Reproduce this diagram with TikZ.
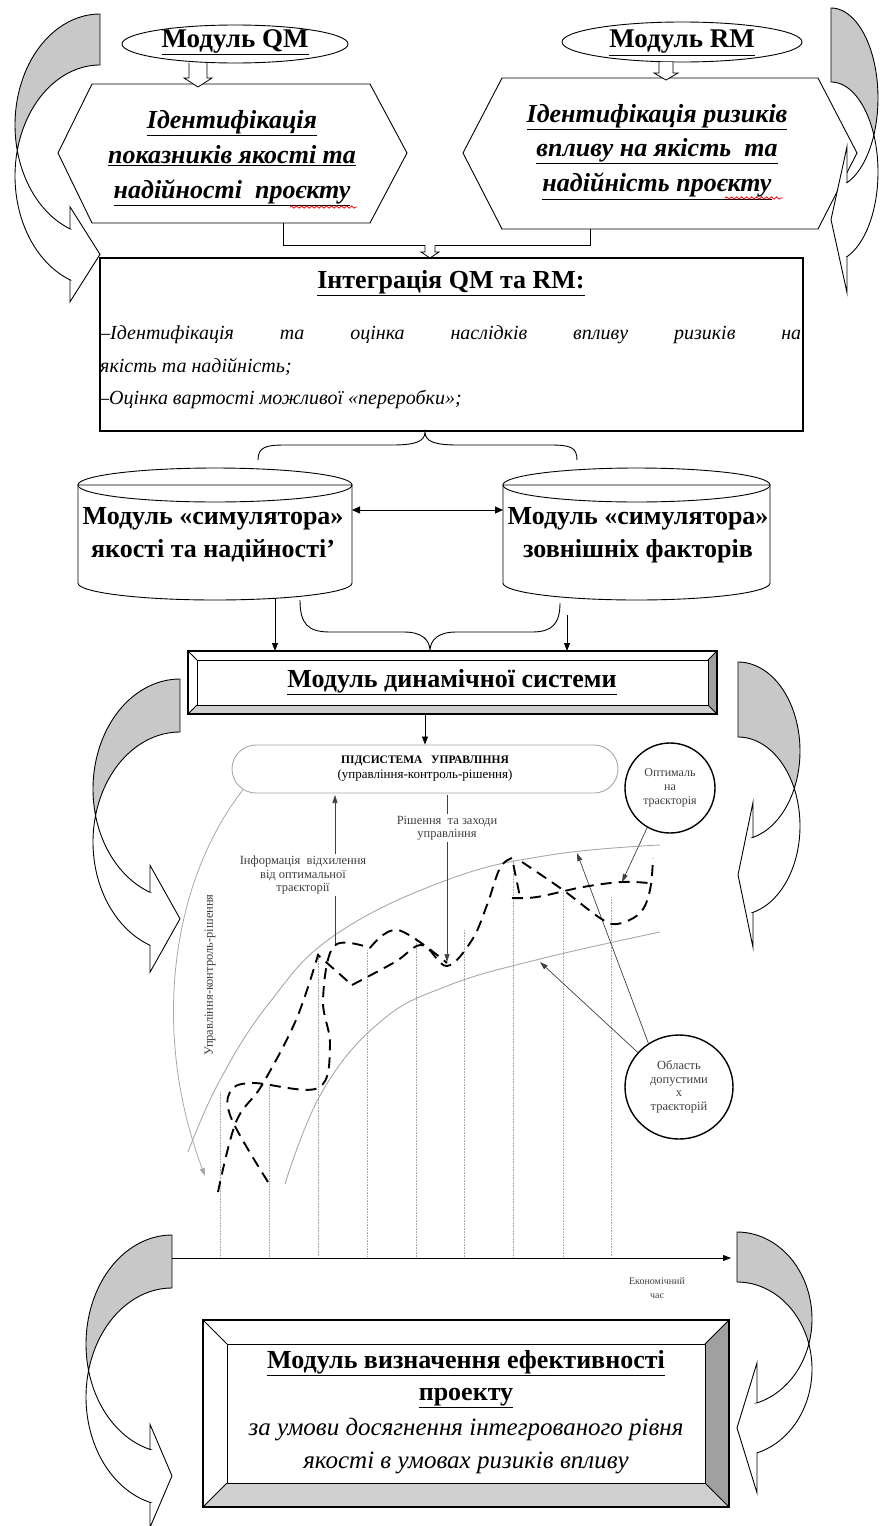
\documentclass[tikz,border=0pt]{standalone}
\usepackage{fontspec}
\setmainfont{Liberation Serif}
\usetikzlibrary{arrows.meta,shapes.geometric,decorations.pathmorphing}
\definecolor{agrey}{HTML}{C8C8C8}
\definecolor{bvdark}{HTML}{A0A0A0}
\definecolor{bvlight}{HTML}{CFCFCF}
\definecolor{gline}{HTML}{A8A8A8}
\definecolor{gtext}{HTML}{404040}
\newcommand\FSz[1]{\fontsize{#1}{#1}\selectfont}
% curved arrow: #1 xr, #2 side sign, #3 a, #4 yt, #5 th, #6 hR, #7 L, #8 bw
\newcommand\curvarrow[8]{%
 \pgfmathsetmacro\CAyc{#4+#6}%
 \pgfmathsetmacro\CAal{asin(#5/(2*#6))}%
 \pgfmathsetmacro\CAbe{acos(-#7/#3)}%
 \pgfmathsetmacro\CAyA{\CAyc+#6*sin(\CAbe)}%
 \pgfmathsetmacro\CAyB{\CAyA+#5}%
 \pgfmathsetmacro\CAxb{#1-#2*#7}%
 \pgfmathsetmacro\CAym{(\CAyA+\CAyB)/2}%
 \pgfmathsetmacro\CAa{180-\CAal}%
 \pgfmathsetmacro\CAb{180+\CAal}%
 \filldraw[fill=agrey,line width=0.9] plot[domain=270:\CAa,samples=50] ({#1+#2*#3*cos(\x)},{\CAyc+#6*sin(\x)}) -- plot[domain=\CAb:270,samples=50] ({#1+#2*#3*cos(\x)},{\CAyc+#5+#6*sin(\x)}) -- cycle;
 \filldraw[fill=white,line width=0.9] plot[domain=\CAb:\CAbe,samples=50] ({#1+#2*#3*cos(\x)},{\CAyc+#5+#6*sin(\x)}) -- (\CAxb,\CAyB) -- (\CAxb,{\CAyB+#8}) -- (#1,\CAym) -- (\CAxb,{\CAyA-#8}) -- (\CAxb,\CAyA) -- plot[domain=\CAbe:\CAa,samples=50] ({#1+#2*#3*cos(\x)},{\CAyc+#6*sin(\x)}) -- cycle;
}
% hollow block arrow: x, ytop, ytip, shaft half, head half, head length
\newcommand\hollowarrow[6]{%
 \filldraw[fill=white,line width=0.8] ({#1-#4},#2) -- ({#1-#4},{#3-#6}) -- ({#1-#5},{#3-#6}) -- (#1,#3) -- ({#1+#5},{#3-#6}) -- ({#1+#4},{#3-#6}) -- ({#1+#4},#2);
}
% bevel frame: x1 y1 x2 y2 d
\newcommand\bevelbox[5]{%
 \fill[white] (#1,#2) rectangle (#3,#4);
 \fill[bvdark] (#3,#2) -- (#3,#4) -- ({#3-#5},{#4-#5}) -- ({#3-#5},{#2+#5}) -- cycle;
 \fill[bvlight] (#1,#4) -- (#3,#4) -- ({#3-#5},{#4-#5}) -- ({#1+#5},{#4-#5}) -- cycle;
 \draw[line width=1.3] (#1,#2) rectangle (#3,#4);
 \draw[line width=0.8] ({#1+#5},{#2+#5}) rectangle ({#3-#5},{#4-#5});
 \draw[line width=0.8] (#1,#2) -- ({#1+#5},{#2+#5}) (#3,#2) -- ({#3-#5},{#2+#5}) (#1,#4) -- ({#1+#5},{#4-#5}) (#3,#4) -- ({#3-#5},{#4-#5});
}
% cylinder: cx, a, ytop, ybot, ry
\newcommand\cylshape[5]{%
 \filldraw[fill=white,line width=0.9] ({#1-#2},#3) -- ({#1-#2},#4) -- plot[domain=180:0,samples=60] ({#1+#2*cos(\x)},{#4+#5*sin(\x)}) -- ({#1+#2},#3) -- cycle;
 \draw[line width=0.9] plot[domain=0:360,samples=90] ({#1+#2*cos(\x)},{#3+#5*sin(\x)});
}
\begin{document}
\begin{tikzpicture}[x=1pt,y=-1pt,
  every node/.style={inner sep=0pt},
  arr/.style={-{Triangle[length=8pt,width=6pt]},line width=0.8},
  garr/.style={draw=gline,line width=0.8,-{Triangle[length=8pt,width=5pt]}},
  karr/.style={draw=gtext,line width=0.7,-{Triangle[length=8pt,width=5pt]}},
  gtxt/.style={text=gtext,font=\FSz{12.5},align=center},
  traj/.style={line width=1.9,dash pattern=on 11pt off 7pt},
  vdot/.style={gline,line width=0.6,densely dotted},
  hexit/.style={font=\bfseries\itshape\FSz{26},align=center}]
\useasboundingbox (0,0) rectangle (881,1526);

% ---------- top ellipses ----------
\node[draw,ellipse,line width=0.9,minimum width=226,minimum height=38] (qm) at (235,44) {};
\node[font=\bfseries\FSz{27}] (qmT) at (235,42) {\underline{Модуль QM}};
\node[draw,ellipse,line width=0.9,minimum width=240,minimum height=40] (rm) at (682,42) {};
\node[font=\bfseries\FSz{27}] (rmT) at (682,43) {\underline{Модуль RM}};

% ---------- hexagons ----------
\filldraw[fill=white,line width=0.9] (92,84) -- (370,84) -- (407,153) -- (370,223) -- (92,223) -- (58,153) -- cycle;
\filldraw[fill=white,line width=0.9] (502,78) -- (818,78) -- (857,153) -- (818,229) -- (502,229) -- (463,153) -- cycle;
\node[hexit] (hq) at (232,158) {\underline{Ідентифікація}\\[9pt]\underline{показників якості та}\\[9pt]\underline{надійності\ \ проєкту}};
\node[hexit] (hr) at (657,152) {\underline{Ідентифікація ризиків}\\[8pt]\underline{впливу на якість\ \ та}\\[8pt]\underline{надійність проєкту}};
\draw[red,line width=0.8,decorate,decoration={snake,amplitude=1.2pt,segment length=5pt}] (290,207) -- (357,207);
\draw[red,line width=0.8,decorate,decoration={snake,amplitude=1.2pt,segment length=5pt}] (725,198) -- (783,198);

\hollowarrow{198}{63}{87}{9}{14}{9}
\hollowarrow{666}{62}{80}{7}{12}{7}

% ---------- connector to integration ----------
\coordinate (qmB) at (283,223);
\coordinate (rmB) at (590,229);
\draw[line width=0.9] (qmB) -- (283,245) -| (rmB);
\hollowarrow{430}{245}{258}{5}{9}{6}

% ---------- integration box ----------
\draw[line width=1.1] (100,258) rectangle (803,431);
\node[font=\bfseries\FSz{26}] (intT) at (451,283) {\underline{Інтеграція QM та RM:}};
\node[anchor=west,font=\itshape\FSz{20}] (int1) at (100,335) {\makebox[701pt][s]{–Ідентифікація та оцінка наслідків впливу ризиків на}};
\node[anchor=west,font=\itshape\FSz{20}] (int2) at (100,367) {якість та надійність;};
\node[anchor=west,font=\itshape\FSz{20}] (int3) at (100,399) {\kern-1pt–Оцінка вартості можливої «переробки»;};

% brace under integration
\coordinate (brT) at (425,432);
\draw[line width=0.9] (258,460) .. controls (258,447) and (266,445) .. (285,445) -- (392,445) .. controls (414,445) and (425,442) .. (brT) .. controls (425,442) and (436,445) .. (458,445) -- (550,445) .. controls (570,445) and (577,447) .. (577,460);

% ---------- cylinders ----------
\cylshape{215}{137}{485}{583}{17}
\cylshape{636.5}{133.5}{485}{583}{17}
\node[font=\bfseries\FSz{26},align=center] (cl) at (213,535) {Модуль «симулятора»\\[7pt]якості та надійності’};
\node[font=\bfseries\FSz{26},align=center] (cr) at (638,535) {Модуль «симулятора»\\[7pt]зовнішніх факторів};
\coordinate (clR) at (352,510);
\coordinate (crL) at (503,510);
\draw[{Triangle[length=8pt,width=7pt]}-{Triangle[length=8pt,width=7pt]},line width=1] (clR) -- (crL);

% ---------- dynamic system box ----------
\bevelbox{188}{651}{717}{714}{9}
\node[font=\bfseries\FSz{26}] (dyn) at (452,682) {\underline{Модуль динамічної системи}};
\coordinate (cl1) at (275,598);
\coordinate (cl2) at (275,651);
\coordinate (cr1) at (567,615);
\coordinate (cr2) at (567,651);
\draw[arr] (cl1) -- (cl2);
\draw[arr] (cr1) -- (cr2);
\coordinate (brB) at (430,651);
\draw[line width=0.9] (300,600) .. controls (300,624) and (308,632) .. (330,632) -- (404,632) .. controls (422,632) and (430,640) .. (brB) .. controls (430,640) and (438,632) .. (456,632) -- (532,632) .. controls (552,632) and (560,624) .. (560,603);

% ---------- graph ----------
\foreach \xx/\yy in {220/1092,269/1085,318/953,367/950,416/938,464/930,513/860,563/890,611/897}{
  \draw[vdot] (\xx,\yy) -- (\xx,1257);
}
\draw[gline,line width=0.9] plot[smooth,tension=0.7] coordinates {(188,1152) (220,1080) (270,1002) (335,935) (447,880) (550,855) (660,845)};
\draw[gline,line width=0.9] plot[smooth,tension=0.7] coordinates {(285,1184) (322,1092) (380,1022) (447,986) (540,959) (660,932)};

% subsystem
\node[draw=gline,line width=0.9,rounded corners=24,minimum width=386,minimum height=48,align=center,fill=white] (sub) at (425,769) {{\bfseries\FSz{11.5}ПІДСИСТЕМА\ \ \ УПРАВЛІННЯ}\\[3pt]{\FSz{13}(управління-контроль-рішення)}};
\coordinate (dynB) at (425,714);
\draw[arr] (dynB) -- (sub.north);

% loop arrow from subsystem
\coordinate (vtip) at (205,1176);
\draw[garr] (sub.west) ++(12,20) .. controls (172,880) and (150,1030) .. (vtip);
\node[gtxt,rotate=90] (vlab) at (210,975) {Управління-контроль-рішення};

% info arrow
\coordinate (infB) at (335,945);
\coordinate (infT) at (335,795);
\draw[karr] (infB) -- (infT);
\node[gtxt,fill=white,inner sep=2pt] (inf) at (303,875) {Інформація\ \ відхилення\\[1pt]від оптимальної\\[1pt]траєкторії};
% decision arrow
\coordinate (decT) at (447,795);
\coordinate (decB) at (447,962);
\draw[karr] (decT) -- (decB);
\node[gtxt,fill=white,inner sep=2pt] (dec) at (447,828) {Рішення\ \ та заходи\\[1pt]управління};

% optimal trajectory circle
\node[draw,circle,line width=1.4,minimum size=90,fill=white,gtxt,font=\FSz{12}] (opt) at (670,788) {Оптималь\\[2pt]на\\[2pt]траєкторія};
\coordinate (optT) at (622,882);
\draw[karr] (opt.240) -- (optT);

% admissible region circle
\node[draw,ellipse,line width=1.4,minimum width=108,minimum height=104,gtxt,font=\FSz{12.5}] (obl) at (679,1087) {Область\\[1pt]допустими\\[1pt]х\\[1pt]траєкторій};
\coordinate (oblA) at (540,962);
\coordinate (oblB) at (577,853);
\draw[karr] (obl.140) -- (oblA);
\draw[karr] (obl.125) -- (oblB);

% trajectories (dashed)
\draw[traj] plot[smooth,tension=0.6] coordinates {(218,1192) (236,1122) (262,1085) (296,1020) (318,955)} -- (352,985);
\draw[traj] plot[smooth,tension=0.6] coordinates {(268,1182) (232,1120) (230,1092) (252,1083) (318,1088) (330,1045) (323,1000) (334,946) (370,948)};
\draw[traj] plot[smooth,tension=0.6] coordinates {(352,985) (395,962) (422,945) (447,966) (472,940) (487,905) (500,868) (512,858)} -- (520,897);
\draw[traj] plot[smooth,tension=0.6] coordinates {(370,948) (398,930) (447,963)};
\draw[traj] plot[smooth,tension=0.6] coordinates {(522,862) (563,890) (600,918) (617,924) (640,913) (650,890) (653,858)};
\draw[traj] plot[smooth,tension=0.6] coordinates {(512,898) (537,897) (583,887) (622,882) (648,883)};

% time axis
\coordinate (ax0) at (172,1258);
\coordinate (ax1) at (731,1258);
\draw[arr,line width=0.8] (ax0) -- (ax1);
\node[gtxt,font=\FSz{10}] (tlab) at (657,1288) {Економічний\\[4pt]час};

% ---------- bottom box ----------
\bevelbox{203}{1320}{729}{1507}{24}
\node[align=center] (eff) at (466,1412) {{\bfseries\FSz{26}\underline{Модуль визначення ефективності}}\\[11pt]{\bfseries\FSz{26}\underline{проекту}}\\[9pt]{\itshape\FSz{25}за умови досягнення інтегрованого рівня}\\[10pt]{\itshape\FSz{25}якості в умовах ризиків впливу}};

% ---------- curved arrows ----------
\curvarrow{100}{1}{85}{14}{51}{111}{30}{22}
\curvarrow{180}{1}{87}{679}{53}{110}{30}{27}
\curvarrow{172}{1}{86}{1235}{53}{109}{22}{25}
\curvarrow{831}{-1}{47}{8}{74}{90}{16}{36}
\curvarrow{738}{-1}{62}{662}{75}{89}{15}{35}
\curvarrow{737}{-1}{75}{1232}{50}{87}{20}{40}
\end{tikzpicture}
\end{document}
